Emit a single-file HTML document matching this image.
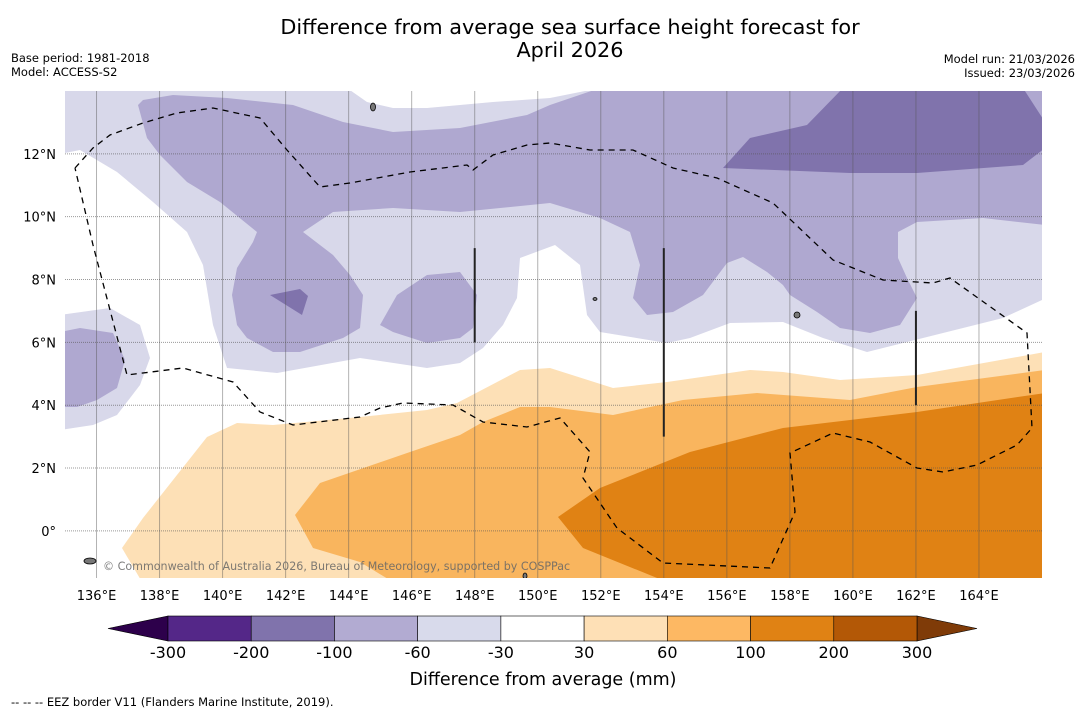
<!DOCTYPE html>
<html><head><meta charset="utf-8">
<style>
body{margin:0;background:#fff;width:1085px;height:713px;overflow:hidden;font-family:"DejaVu Sans","Liberation Sans",sans-serif;}
svg text{font-family:"DejaVu Sans","Liberation Sans",sans-serif;}
</style></head>
<body>
<svg id="chart" width="1085" height="713" viewBox="0 0 1085 713" xmlns="http://www.w3.org/2000/svg">
<text x="570" y="34" font-size="20.8" text-anchor="middle">Difference from average sea surface height forecast for</text>
<text x="570" y="57" font-size="20.8" text-anchor="middle">April 2026</text>
<text x="11" y="62" font-size="11.5">Base period: 1981-2018</text>
<text x="11" y="76" font-size="11.5">Model: ACCESS-S2</text>
<text x="1075" y="63" font-size="11.5" text-anchor="end">Model run: 21/03/2026</text>
<text x="1075" y="77" font-size="11.5" text-anchor="end">Issued: 23/03/2026</text>
<defs><clipPath id="mapclip"><rect x="65" y="91" width="977" height="487"/></clipPath></defs>
<g id="map" clip-path="url(#mapclip)"></g>
<g id="axes"></g>
<g id="cbar"></g>
<text x="543" y="685" font-size="17.5" text-anchor="middle">Difference from average (mm)</text>
<text x="11" y="706" font-size="11.5">--  --  -- EEZ border V11 (Flanders Marine Institute, 2019).</text>
</svg>
<script>
const NS="http://www.w3.org/2000/svg";
// axis extents
const lonMin=135, lonMax=166, latMin=-1.5, latMax=14;
const lonTicks=[136,138,140,142,144,146,148,150,152,154,156,158,160,162,164];
const latTicks=[0,2,4,6,8,10,12];
const cbarLevels=[-300,-200,-100,-60,-30,30,60,100,200,300];
const cbarColors=["#542788","#8073ac","#b2abd2","#d8daeb","#ffffff","#fee0b6","#fdb863","#e08214","#b35806"];
// contour geometry (map pixel space)
const L1main=[[65,91],[1042,91],[1042,300],[1003,318],[867,352],[823,338],[783,322],[730,323],[690,338],[667,343],[600,332],[587,315],[580,265],[555,245],[520,258],[517,298],[503,325],[483,348],[460,363],[427,368],[360,358],[277,373],[227,368],[213,325],[203,265],[187,232],[153,202],[117,172],[80,150],[65,153]];
const whiteTop=[[347,88],[367,102],[393,108],[427,108],[493,102],[550,98],[600,88]];
const L1left=[[60,315],[110,308],[140,325],[150,358],[140,385],[117,415],[93,425],[60,430]];
const L2left=[[60,332],[80,328],[113,333],[125,360],[117,388],[97,400],[77,407],[60,407]];
const L2main=[[138,105],[143,100],[173,95],[227,98],[293,105],[343,122],[393,132],[460,128],[527,115],[550,105],[600,88],[1045,88],[1045,225],[983,218],[917,222],[898,232],[898,258],[907,278],[917,298],[900,325],[870,333],[840,328],[817,312],[790,295],[783,285],[767,272],[743,257],[727,263],[703,295],[673,312],[647,315],[633,298],[640,265],[630,232],[600,218],[550,203],[460,212],[393,208],[333,212],[303,232],[333,255],[350,275],[363,295],[360,328],[343,338],[300,352],[273,352],[247,338],[237,325],[232,295],[237,268],[253,242],[257,232],[220,202],[187,182],[160,155],[147,138]];
const L2island=[[380,325],[397,295],[427,275],[460,272],[477,295],[473,328],[460,338],[427,343],[393,332]];
const L3small=[[270,295],[300,289],[308,296],[302,315]];
const L3big=[[843,88],[1023,88],[1045,122],[1045,148],[1023,165],[917,173],[850,173],[723,168],[750,138],[807,125]];
const O1=[[122,548],[143,518],[207,437],[237,423],[273,425],[360,417],[427,410],[457,403],[520,370],[550,368],[613,388],[667,382],[750,370],[783,372],[840,380],[917,375],[1045,352],[1045,582],[142,582]];
const O2=[[295,515],[320,483],[410,452],[460,435],[483,422],[520,407],[550,407],[613,415],[683,400],[757,393],[850,400],[917,387],[1045,370],[1045,582],[393,582],[360,562],[313,548]];
const O3=[[558,517],[600,488],[690,452],[783,428],[917,412],[1045,393],[1045,582],[667,582],[583,548]];
const eez=[[75,168],[93,148],[110,135],[143,123],[177,113],[213,108],[260,118],[287,150],[320,187],[350,183],[410,172],[467,165],[473,170],[493,155],[527,145],[550,143],[590,150],[633,150],[673,168],[717,178],[773,203],[833,260],[883,280],[933,283],[950,278],[1027,333],[1032,428],[1017,445],[977,465],[943,472],[917,468],[870,442],[833,433],[790,453],[795,512],[770,568],[663,563],[617,528],[583,478],[590,452],[560,418],[527,427],[483,422],[453,405],[403,403],[380,408],[360,417],[293,425],[260,412],[233,382],[183,368],[127,375],[93,245],[75,168]];
const boundaryLines=[[148,9,6],[154,9,3],[162,7,4]];

const X0=65,X1=1042,Y0=91,Y1=578;
const xs=lon=>X0+(lon-lonMin)/(lonMax-lonMin)*(X1-X0);
const ys=lat=>Y0+(latMax-lat)/(latMax-latMin)*(Y1-Y0);
const map=document.getElementById('map'),axes=document.getElementById('axes'),cbar=document.getElementById('cbar');
function mk(tag,attrs,parent){const e=document.createElementNS(NS,tag);for(const k in attrs)e.setAttribute(k,attrs[k]);parent.appendChild(e);return e;}
function poly(pts,fill,name){const e=mk('polygon',{points:pts.map(p=>p.join(',')).join(' '),fill:fill},map);

return e;}
poly(L1main,'#d8d8ea','contour-minus30');
poly(whiteTop,'#ffffff','contour-neutral-top');
poly(L1left,'#d8d8ea','contour-minus30-west');
poly(L2left,'#afa8d0','contour-minus60-west');
poly(L2main,'#afa8d0','contour-minus60');
poly(L2island,'#afa8d0','contour-minus60-island');
poly(L3small,'#8073ac','contour-minus100-small');
poly(L3big,'#8073ac','contour-minus100');
poly(O1,'#fde0b6','contour-plus30');
poly(O2,'#f9b55e','contour-plus60');
poly(O3,'#e08214','contour-plus100');
// gridlines
lonTicks.forEach(l=>{const g=mk('line',{x1:xs(l),x2:xs(l),y1:Y0,y2:Y1,stroke:'#555','stroke-opacity':0.45,'stroke-width':1},map);

});
latTicks.forEach(l=>{const g=mk('line',{x1:X0,x2:X1,y1:ys(l),y2:ys(l),stroke:'#555','stroke-opacity':0.6,'stroke-width':1,'stroke-dasharray':'1,1'},map);

});
// eez
const ez=mk('polyline',{points:eez.map(p=>p.join(',')).join(' '),fill:'none',stroke:'#000','stroke-width':1.3,'stroke-dasharray':'6,5'},map);


boundaryLines.forEach(b=>{const l=mk('line',{x1:xs(b[0]),x2:xs(b[0]),y1:ys(b[1]),y2:ys(b[2]),stroke:'#222','stroke-width':2},map);

});
// islands
[[373,107,2.5,4],[797,315,3,3],[90,561,6,3],[525,576,2,3],[595,299,2,1.5]].forEach(p=>{const e=mk('ellipse',{cx:p[0],cy:p[1],rx:p[2],ry:p[3],fill:'#777',stroke:'#000','stroke-width':0.8},map);

});
const cp=mk('text',{x:103,y:570,'font-size':11.1,fill:'#666','fill-opacity':0.85},map);
cp.textContent='© Commonwealth of Australia 2026, Bureau of Meteorology, supported by COSPPac';


// tick labels
lonTicks.forEach(l=>{const t=mk('text',{x:xs(l),y:600,'font-size':13,'text-anchor':'middle'},axes);t.textContent=l+'°E';

});
latTicks.forEach(l=>{const t=mk('text',{x:56,y:ys(l)+5,'font-size':13,'text-anchor':'end'},axes);t.textContent=l===0?'0°':l+'°N';

});
// colorbar
const cx0=168,cx1=917,cy0=616,cy1=641,n=cbarColors.length,w=(cx1-cx0)/n;
const lt=mk('polygon',{points:`108,${(cy0+cy1)/2} ${cx0},${cy0} ${cx0},${cy1}`,fill:'#2d004b',stroke:'#000','stroke-width':0.6},cbar);


const rt=mk('polygon',{points:`977,${(cy0+cy1)/2} ${cx1},${cy0} ${cx1},${cy1}`,fill:'#7f3b08',stroke:'#000','stroke-width':0.6},cbar);


cbarColors.forEach((c,i)=>{const r=mk('rect',{x:cx0+i*w,y:cy0,width:w,height:cy1-cy0,fill:c,stroke:'#000','stroke-width':0.6},cbar);

});
cbarLevels.forEach((v,i)=>{const t=mk('text',{x:cx0+i*w,y:658,'font-size':16,'text-anchor':'middle'},cbar);t.textContent=v;

});
</script>
</body></html>
